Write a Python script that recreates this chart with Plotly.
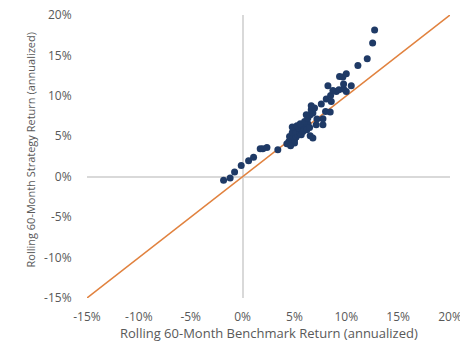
import plotly.graph_objects as go

# Rolling 60-month annualized returns (%): benchmark vs strategy
benchmark = [
    -1.83, -1.20, -0.77, -0.13, 0.58, 1.06, 1.70, 1.95, 2.35, 3.40,
    4.27, 4.47, 4.69, 4.53, 4.85, 5.01, 5.17, 5.34, 4.79, 5.11,
    5.50, 5.66, 5.43, 5.88, 6.08, 6.30, 4.79, 5.24, 5.56, 5.98,
    6.30, 6.52, 6.14, 6.78, 6.62, 6.94, 6.62, 6.52, 6.78, 7.10,
    7.75, 7.75, 7.17, 8.00, 8.45, 7.59, 8.07, 8.55, 8.49, 8.23,
    8.71, 9.03, 9.29, 9.74, 10.00, 9.74, 9.35, 9.67, 10.00, 10.48,
    11.12, 12.02, 12.54, 12.73, 5.01, 4.63, 5.66, 5.82, 6.20, 6.46,
]
strategy = [
    -0.45, -0.16, 0.58, 1.40, 1.98, 2.40, 3.45, 3.45, 3.60, 3.35,
    4.08, 4.37, 4.66, 4.98, 4.98, 4.58, 4.91, 5.19, 5.48, 5.60,
    5.48, 5.81, 6.02, 6.02, 6.31, 6.55, 6.15, 6.31, 6.55, 6.84,
    7.26, 7.67, 7.67, 7.88, 8.29, 8.50, 8.78, 5.07, 4.79, 6.43,
    6.43, 7.17, 7.13, 8.08, 8.00, 8.99, 9.61, 9.31, 10.05, 11.25,
    10.67, 10.55, 10.76, 10.85, 10.55, 11.46, 12.40, 12.33, 12.74, 11.25,
    13.76, 14.59, 16.53, 18.14, 4.17, 3.83, 5.19, 5.60, 5.81, 6.10,
]

# 45-degree reference line endpoints
diag_x = [-15, 20]
diag_y = [-15, 20]

tick_vals = [-15, -10, -5, 0, 5, 10, 15, 20]
tick_text = ["-15%", "-10%", "-5%", "0%", "5%", "10%", "15%", "20%"]

x_title = "Rolling 60-Month Benchmark Return (annualized)"
y_title = "Rolling 60-Month Strategy Return (annualized)"

NAVY = "#1F3A66"
ORANGE = "#E1823F"
GREY_TEXT = "#595959"
FONT = "Open Sans, DejaVu Sans, sans-serif"

fig = go.Figure()
fig.add_trace(go.Scatter(
    x=diag_x, y=diag_y, mode="lines",
    line=dict(color=ORANGE, width=1.5),
    hoverinfo="skip", showlegend=False,
))
fig.add_trace(go.Scatter(
    x=benchmark, y=strategy, mode="markers",
    marker=dict(color=NAVY, size=7, line=dict(width=0)),
    showlegend=False,
))

axis_common = dict(
    range=[-15, 20],
    tickvals=tick_vals,
    ticktext=tick_text,
    showgrid=False,
    showline=False,
    zeroline=True,
    zerolinecolor="#D9D9D9",
    zerolinewidth=1.5,
    ticks="outside",
    tickcolor="rgba(0,0,0,0)",
    tickfont=dict(family=FONT, size=12, color=GREY_TEXT),
    ticklabeloverflow="allow",
    automargin=False,
)

fig.update_xaxes(**axis_common, ticklen=8)
fig.update_yaxes(**axis_common, ticklen=12)

# Axis titles placed as annotations so they sit tight against the tick labels
fig.add_annotation(
    text=x_title, xref="paper", yref="paper", x=0.5, y=0,
    xanchor="center", yanchor="middle", yshift=-35, showarrow=False,
    font=dict(family=FONT, size=13, color=GREY_TEXT),
)
fig.add_annotation(
    text=y_title, xref="paper", yref="paper", x=0, y=0.5,
    xanchor="center", yanchor="middle", xshift=-57, yshift=7,
    textangle=-90, showarrow=False,
    font=dict(family=FONT, size=11, color=GREY_TEXT),
)

fig.update_layout(
    width=460, height=341,
    margin=dict(l=87, r=10, t=15, b=43),
    paper_bgcolor="white",
    plot_bgcolor="white",
    font=dict(family=FONT, color=GREY_TEXT),
)

fig.write_html("out.html")
